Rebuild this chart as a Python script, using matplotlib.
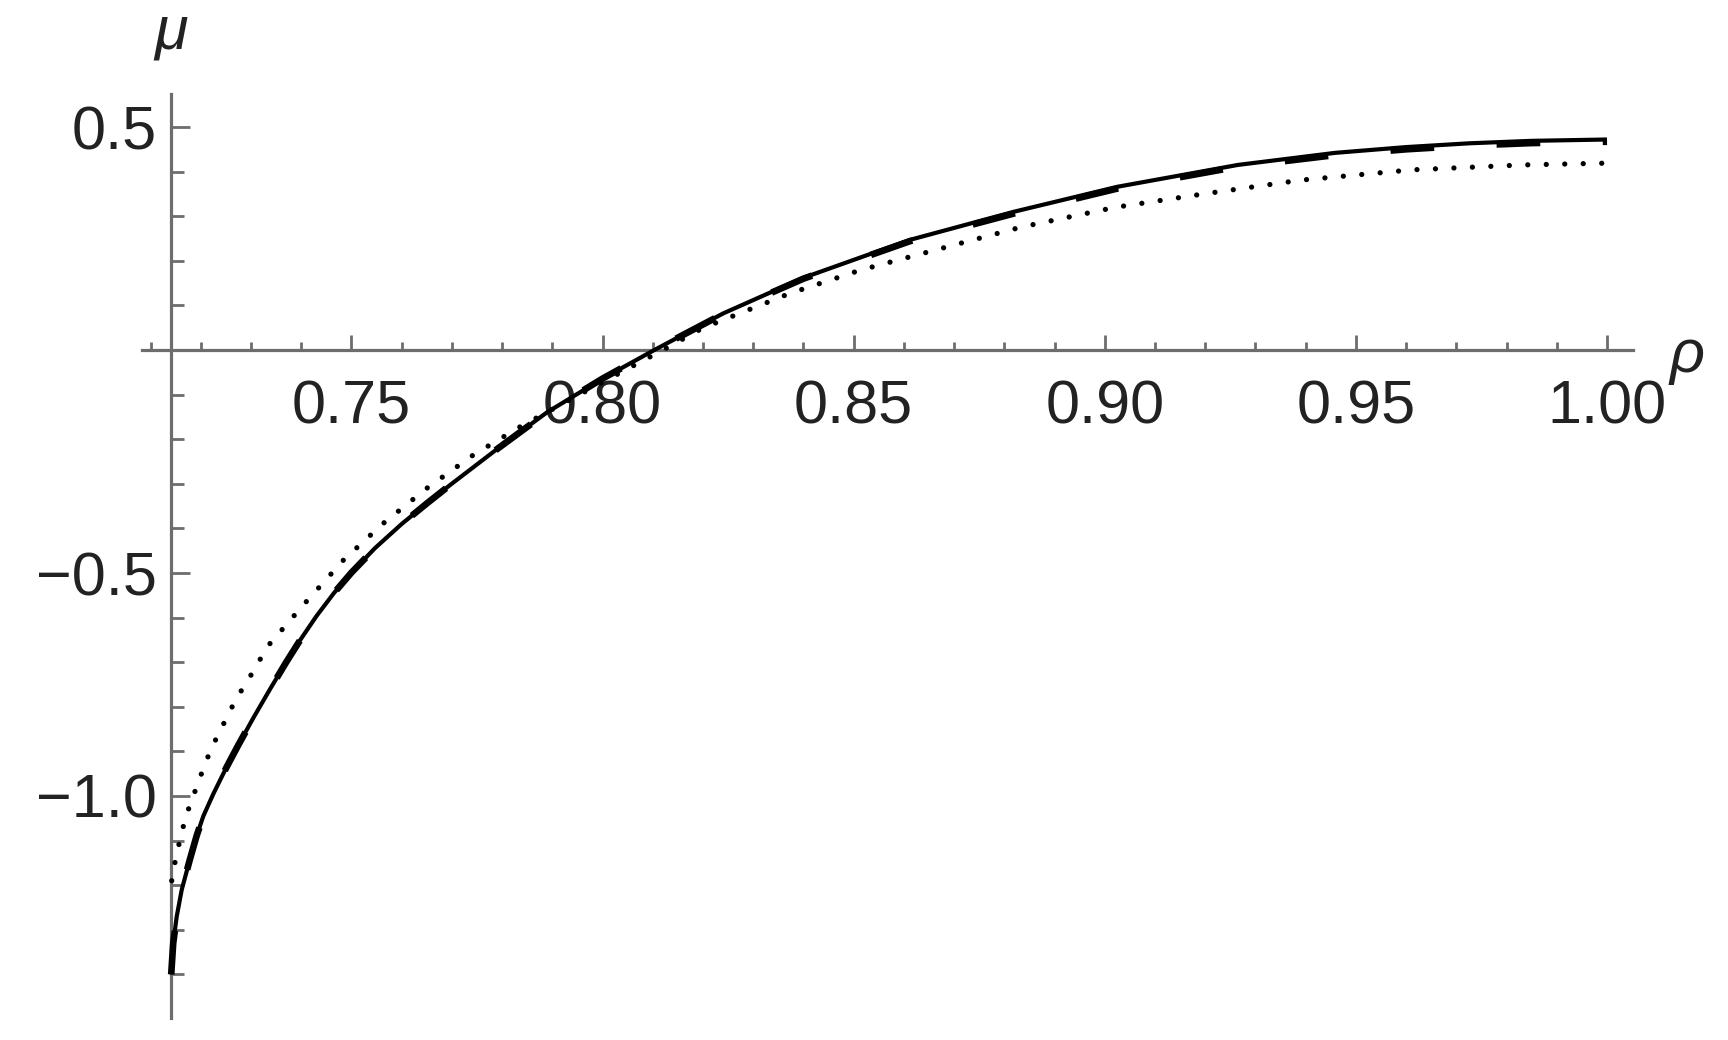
import numpy as np
import matplotlib
matplotlib.use("Agg")
import matplotlib.pyplot as plt
from matplotlib.ticker import FixedLocator, FixedFormatter

plt.rcParams['font.family'] = ['Liberation Sans', 'DejaVu Sans']
plt.rcParams['lines.scale_dashes'] = False

# solid curve
rho_solid = [0.7141, 0.7145, 0.7152, 0.7162, 0.7178, 0.7192, 0.7205, 0.7225,
             0.7250, 0.7275, 0.7305, 0.7338, 0.7370, 0.7398, 0.7430, 0.7465,
             0.7500, 0.7547, 0.7600, 0.7650, 0.7696, 0.7790, 0.7889, 0.8000,
             0.8103, 0.8240, 0.8400, 0.8612, 0.8819, 0.9025, 0.9265, 0.9458,
             0.9600, 0.9726, 0.9850, 1.0000]
mu_solid = [-1.40, -1.33, -1.27, -1.21, -1.143, -1.088, -1.045, -0.995,
            -0.938, -0.885, -0.824, -0.760, -0.700, -0.650, -0.597, -0.545,
            -0.499, -0.444, -0.390, -0.344, -0.303, -0.222, -0.140, -0.064,
            0.0, 0.082, 0.162, 0.247, 0.310, 0.366, 0.415, 0.442,
            0.455, 0.4635, 0.469, 0.472]

# dashed curve (almost on top of the solid one)
rho_dashed = rho_solid
mu_dashed = [-1.40, -1.33, -1.27, -1.21, -1.143, -1.088, -1.045, -0.995,
             -0.938, -0.885, -0.824, -0.760, -0.700, -0.650, -0.597, -0.545,
             -0.499, -0.444, -0.390, -0.344, -0.303, -0.222, -0.140, -0.064,
             0.0, 0.081, 0.160, 0.244, 0.306, 0.362, 0.411, 0.437,
             0.450, 0.4585, 0.464, 0.467]

# dotted curve
rho_dotted = [0.7142, 0.7150, 0.7162, 0.7172, 0.7197, 0.7210, 0.7225, 0.7242,
              0.7258, 0.7275, 0.7295, 0.7314, 0.7331, 0.7407, 0.7484, 0.7563,
              0.7650, 0.7743, 0.7836, 0.8000, 0.8120, 0.8199, 0.8373, 0.8513,
              0.8695, 0.8835, 0.9021, 0.9203, 0.9391, 0.9612, 0.9833, 1.0000]
mu_dotted = [-1.19, -1.14, -1.081, -1.040, -0.963, -0.923, -0.884, -0.846,
             -0.809, -0.774, -0.738, -0.702, -0.667, -0.568, -0.471, -0.389,
             -0.310, -0.235, -0.172, -0.072, 0.0, 0.049, 0.127, 0.179,
             0.234, 0.276, 0.320, 0.351, 0.381, 0.404, 0.415, 0.419]

x_major = [0.75, 0.80, 0.85, 0.90, 0.95, 1.00]
x_labels = ['0.75', '0.80', '0.85', '0.90', '0.95', '1.00']
x_minor = [round(0.71 + 0.01 * i, 2) for i in range(30)]
y_major = [0.5, -0.5, -1.0]
y_labels = ['0.5', '\u22120.5', '\u22121.0']
y_minor = [0.4, 0.3, 0.2, 0.1, -0.1, -0.2, -0.3, -0.4, -0.6, -0.7, -0.8, -0.9,
           -1.1, -1.2, -1.3, -1.4]

gray = '#6d6d6d'
fig = plt.figure(figsize=(17.28, 10.4), dpi=100)
ax = fig.add_axes([0, 0, 1, 1])
ax.set_xlim(0.68001, 1.02409)
ax.set_ylim(-1.5471, 0.7848)

ax.plot(rho_solid, mu_solid, color='black', lw=3.0, zorder=3,
        solid_capstyle='butt', solid_joinstyle='round')
ax.plot(rho_dashed, mu_dashed, color='black', lw=4.8, zorder=3,
        linestyle=(0, (31.5, 45)), dash_capstyle='butt')
ax.plot(rho_dotted, mu_dotted, color='black', lw=3.8, zorder=3,
        linestyle=(0, (0.01, 13.3)), dash_capstyle='round')

for s in ['top', 'right']:
    ax.spines[s].set_visible(False)
ax.spines['left'].set_position(('data', 0.7141))
ax.spines['bottom'].set_position(('data', 0.0))
ax.spines['left'].set_bounds(-1.498, 0.574)
ax.spines['bottom'].set_bounds(0.7083, 1.0052)
for s in ['left', 'bottom']:
    ax.spines[s].set_color(gray)
    ax.spines[s].set_linewidth(2.3)

ax.xaxis.set_major_locator(FixedLocator(x_major))
ax.xaxis.set_major_formatter(FixedFormatter(x_labels))
ax.xaxis.set_minor_locator(FixedLocator(x_minor))
ax.yaxis.set_major_locator(FixedLocator(y_major))
ax.yaxis.set_major_formatter(FixedFormatter(y_labels))
ax.yaxis.set_minor_locator(FixedLocator(y_minor))

ax.tick_params(axis='x', which='major', direction='in', length=10.5, width=2,
               color=gray, pad=21, labelsize=44, labelcolor='#222222')
ax.tick_params(axis='x', which='minor', direction='in', length=5.5, width=2,
               color=gray)
ax.tick_params(axis='y', which='major', direction='in', length=14, width=2,
               color=gray, pad=10, labelsize=44, labelcolor='#222222')
ax.tick_params(axis='y', which='minor', direction='in', length=9, width=2,
               color=gray)

ax.text(0.7141, 0.677, '\u03bc', fontsize=44, fontstyle='italic',
        ha='center', va='baseline', color='#222222')
ax.text(1.0125, -0.049, '\u03c1', fontsize=44, fontstyle='italic',
        ha='left', va='baseline', color='#222222')

fig.savefig('out.png', dpi=100, facecolor='white')
